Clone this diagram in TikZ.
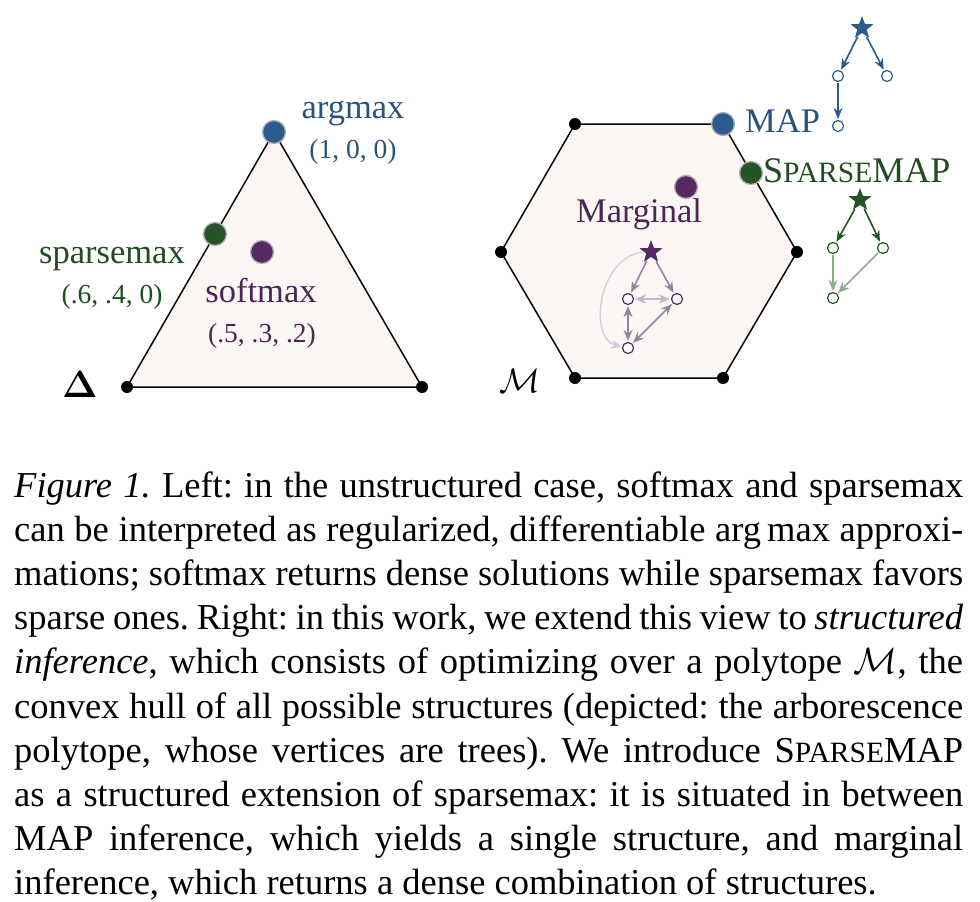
\RequirePackage{fix-cm}
\documentclass[tikz,border=0pt]{standalone}
\usepackage[no-math]{fontspec}
\setmainfont{Liberation Serif}
\usetikzlibrary{shapes.geometric,arrows.meta}
\definecolor{fillpink}{RGB}{252,247,245}
\definecolor{dblue}{RGB}{42,92,142}
\definecolor{tblue}{RGB}{40,82,128}
\definecolor{dgreen}{RGB}{38,84,38}
\definecolor{tgreen}{RGB}{32,76,32}
\definecolor{lgreen}{RGB}{140,170,140}
\definecolor{dpurple}{RGB}{86,40,100}
\definecolor{tpurple}{RGB}{76,36,86}
\definecolor{mpurple}{RGB}{150,130,165}
\definecolor{lpurple}{RGB}{195,180,205}
\definecolor{vlpurple}{RGB}{215,205,222}
\newcommand{\fsc}[1]{{\fontsize{29.5}{34}\selectfont #1}}
\frenchspacing
\tikzset{
  bigdot/.style={circle, inner sep=0pt, minimum size=23pt, draw=gray!60, line width=1.3pt},
  vdot/.style={circle, fill=black, inner sep=0pt, minimum size=12pt},
  snode/.style={circle, draw, fill=white, inner sep=0pt, minimum size=11pt, line width=1.2pt},
  sstar/.style={star, star points=5, star point ratio=2.4, inner sep=0pt, minimum size=24pt},
  tarr/.style={line width=1.6pt, -{Stealth[length=11pt,width=9pt]}, shorten >=1pt, shorten <=1pt},
  darr/.style={line width=1.6pt, {Stealth[length=11pt,width=9pt]}-{Stealth[length=11pt,width=9pt]}, shorten >=1pt, shorten <=1pt},
  lbl/.style={anchor=base, inner sep=0pt, font=\fontsize{34.5}{40}\selectfont},
  clbl/.style={anchor=base, inner sep=0pt, font=\fontsize{27.5}{32}\selectfont},
  capline/.style={anchor=base west, inner sep=0pt, font=\fontsize{36.5}{44}\selectfont},
}
\begin{document}
\begin{tikzpicture}[x=1pt,y=-1pt]
\useasboundingbox (0,0) rectangle (980,902);
% ---------- simplex ----------
\coordinate (tl) at (127,387);
\coordinate (tr) at (422,387);
\coordinate (tt) at (274,132);
\draw[fill=fillpink, line width=1.5pt, line join=round] (tl) -- (tr) -- (tt) -- cycle;
\node[vdot] (vl) at (tl) {};
\node[vdot] (vr) at (tr) {};
\node[bigdot, fill=dblue] (argdot) at (tt) {};
\node[bigdot, fill=dgreen] (spdot) at (215,234) {};
\node[bigdot, fill=dpurple] (sfdot) at (262,252) {};
\node[lbl, text=tblue] (arglbl) at (353,118) {argmax};
\node[clbl, text=tblue] (argc) at (353,158) {(1, 0, 0)};
\node[lbl, text=tgreen] (splbl) at (112,263) {sparsemax};
\node[clbl, text=tgreen] (spc) at (112,303) {(.6, .4, 0)};
\node[lbl, text=tpurple] (sflbl) at (261,302) {softmax};
\node[clbl, text=tpurple] (sfc) at (262,342) {(.5, .3, .2)};
\node[anchor=base, inner sep=0pt, font=\fontsize{38}{44}\selectfont] (delta) at (80,397) {$\mathbf{\Delta}$};
% ---------- polytope ----------
\coordinate (h1) at (575,124);
\coordinate (h2) at (723,124);
\coordinate (h3) at (797,252);
\coordinate (h4) at (723,378);
\coordinate (h5) at (575,378);
\coordinate (h6) at (501,252);
\draw[fill=fillpink, line width=1.5pt, line join=round] (h1) -- (h2) -- (h3) -- (h4) -- (h5) -- (h6) -- cycle;
\foreach \v in {h1,h3,h4,h5,h6} \node[vdot] (d\v) at (\v) {};
\node[bigdot, fill=dblue] (mapdot) at (h2) {};
\node[bigdot, fill=dgreen] (smdot) at (751,173) {};
\node[bigdot, fill=dpurple] (mgdot) at (686,187) {};
\node[lbl, text=tpurple] (mglbl) at (639,222) {Marginal};
\node[lbl, text=tblue, anchor=base west] (maplbl) at (745,132) {MAP};
\node[lbl, text=tgreen, anchor=base west, font=\fontsize{36}{40}\selectfont] (smlbl) at (763,182) {S\fsc{PARSE}MAP};
\node[anchor=base, inner sep=0pt, font=\fontsize{34}{40}\selectfont] (mlbl) at (520,392) {$\mathcal{M}$};
% ---------- marginal graph ----------
\node[sstar, fill=dpurple] (ms) at (651,252) {};
\node[snode, draw=dpurple] (ml) at (628,299) {};
\node[snode, draw=dpurple] (mr) at (677,299) {};
\node[snode, draw=dpurple] (mb) at (628,348) {};
\draw[line width=1.4pt, vlpurple, -{Stealth[length=11pt,width=9pt]}] (ms.180) .. controls (598,256) and (588,338) .. (mb.170);
\draw[tarr, mpurple] (ms) -- (ml);
\draw[tarr, mpurple] (ms) -- (mr);
\draw[darr, lpurple] (ml) -- (mr);
\draw[darr, mpurple] (ml) -- (mb);
\draw[darr, mpurple] (mb) -- (mr);
% ---------- MAP tree ----------
\node[sstar, fill=dblue] (as) at (862,28) {};
\node[snode, draw=dblue] (al) at (838,76) {};
\node[snode, draw=dblue] (ar) at (887,76) {};
\node[snode, draw=dblue] (ab) at (838,126) {};
\draw[tarr, dblue] (as) -- (al);
\draw[tarr, dblue] (as) -- (ar);
\draw[tarr, dblue] (al) -- (ab);
% ---------- SparseMAP tree ----------
\node[sstar, fill=dgreen] (gs) at (860,200) {};
\node[snode, draw=dgreen] (gl) at (833,248) {};
\node[snode, draw=dgreen] (gr) at (883,248) {};
\node[snode, draw=dgreen] (gb) at (833,298) {};
\draw[tarr, dgreen] (gs) -- (gl);
\draw[tarr, dgreen] (gs) -- (gr);
\draw[tarr, lgreen] (gl) -- (gb);
\draw[tarr, lgreen] (gr) -- (gb);
% ---------- caption ----------
\node[capline] (c1) at (14,497) {\makebox[949pt][s]{\textit{Figure 1.} Left: in the unstructured case, softmax and sparsemax}};
\node[capline] (c2) at (14,541.2) {\makebox[949pt][s]{can be interpreted as regularized, differentiable arg\,max approxi-}};
\node[capline] (c3) at (14,585.4) {\makebox[949pt][s]{mations; softmax returns dense solutions while sparsemax favors}};
\node[capline] (c4) at (14,629.6) {\makebox[949pt][s]{sparse ones. Right: in this work, we extend this view to \textit{structured}}};
\node[capline] (c5) at (14,673.8) {\makebox[949pt][s]{\textit{inference}, which consists of optimizing over a polytope $\mathcal{M}$, the}};
\node[capline] (c6) at (14,718.0) {\makebox[949pt][s]{convex hull of all possible structures (depicted: the arborescence}};
\node[capline] (c7) at (14,762.2) {\makebox[949pt][s]{polytope, whose vertices are trees). We introduce S{\fontsize{29.5}{34}\selectfont PARSE}MAP}};
\node[capline] (c8) at (14,806.4) {\makebox[949pt][s]{as a structured extension of sparsemax: it is situated in between}};
\node[capline] (c9) at (14,850.6) {\makebox[949pt][s]{MAP inference, which yields a single structure, and marginal}};
\node[capline] (c10) at (14,894.8) {inference, which returns a dense combination of structures.};
\end{tikzpicture}
\end{document}
